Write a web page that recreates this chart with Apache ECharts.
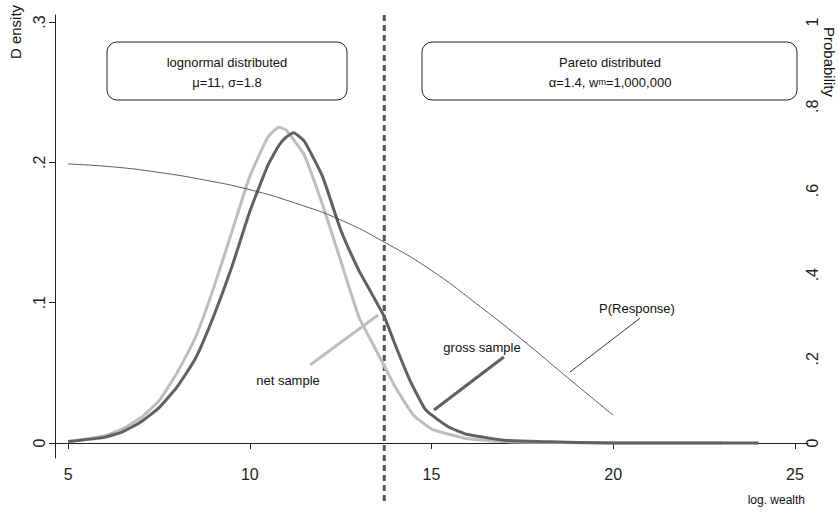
<!DOCTYPE html>
<html><head><meta charset="utf-8">
<script src="https://cdn.jsdelivr.net/npm/echarts@6/dist/echarts.min.js"></script>
<style>html,body{margin:0;background:#fff}#c{width:839px;height:513px}</style>
</head><body><div id="c"></div>
<script>
const grossX = [5, 6, 6.5, 7, 7.5, 8, 8.5, 9, 9.5, 10, 10.5, 10.8, 11, 11.2, 11.5, 12, 12.5, 13, 13.3, 13.7, 14, 14.4, 14.8, 15, 15.5, 16, 17, 18, 20, 24]
const grossY = [0.001, 0.004, 0.008, 0.015, 0.025, 0.04, 0.06, 0.09, 0.125, 0.165, 0.198, 0.212, 0.218, 0.221, 0.215, 0.19, 0.152, 0.123, 0.109, 0.09, 0.07, 0.045, 0.025, 0.02, 0.011, 0.006, 0.002, 0.001, 0, 0]
const netX = [5, 6, 6.5, 7, 7.5, 8, 8.5, 9, 9.5, 10, 10.5, 10.8, 11, 11.5, 12, 12.5, 13, 13.5, 14, 14.5, 15, 15.5, 16, 17, 18, 20, 23]
const netY = [0.001, 0.005, 0.01, 0.018, 0.03, 0.05, 0.075, 0.11, 0.15, 0.19, 0.218, 0.225, 0.223, 0.205, 0.17, 0.13, 0.09, 0.065, 0.04, 0.02, 0.01, 0.006, 0.003, 0.001, 0.0005, 0, 0]
const respX = [5, 6.25, 7.5, 8.75, 10, 11.25, 12.5, 13.75, 15, 16.25, 17.5, 18.75, 20]
const respY = [0.663, 0.656, 0.643, 0.625, 0.602, 0.57, 0.53, 0.475, 0.41, 0.33, 0.245, 0.155, 0.066]
const cutX = 13.7
const pointers = [
  { text: 'net sample', color: '#bdbdbd', from: [11.66, 0.0556], to: [13.53, 0.0912], at: [288, 380] },
  { text: 'gross sample', color: '#606060', from: [15.07, 0.0235], to: [16.99, 0.0613], at: [482, 347] },
  { text: 'P(Response)', color: '#333', from: [18.81, 0.0506], to: [20.74, 0.089], at: [637, 308] }
]
const xTicks = [5, 10, 15, 20, 25]
const yTicks = [0, 0.1, 0.2, 0.3]
const pTicks = [0, 0.2, 0.4, 0.6, 0.8, 1]
const fmt = v => v === 0 ? '0' : String(v).replace(/^0/, '')

const chart = echarts.init(document.getElementById('c'), null, { renderer: 'svg' })
const zip = (a, b) => a.map((x, i) => [x, b[i]])
const axisText = { fontFamily: 'Liberation Sans', fontSize: 16, color: '#222' }
const option = {
  animation: false,
  grid: { left: 55, right: 31, top: 15, bottom: 55 },
  xAxis: {
    type: 'value', min: 4.64, max: 25.36,
    axisLine: { lineStyle: { color: '#222' } },
    axisTick: { customValues: xTicks, length: 6, lineStyle: { color: '#222' } },
    axisLabel: { customValues: xTicks, ...axisText },
    splitLine: { show: false }
  },
  yAxis: [{
    type: 'value', min: -0.0107, max: 0.305,
    axisLine: { show: true, lineStyle: { color: '#222' } },
    axisTick: { show: true, customValues: yTicks, length: 6, lineStyle: { color: '#222' } },
    axisLabel: { customValues: yTicks, rotate: 90, formatter: fmt, ...axisText },
    splitLine: { show: false }
  }, {
    type: 'value', min: -0.0356, max: 1.017, position: 'right',
    axisLine: { show: false },
    axisTick: { show: false },
    axisLabel: { customValues: pTicks, rotate: 90, margin: -4, formatter: fmt, ...axisText },
    splitLine: { show: false }
  }],
  series: [
    { type: 'line', data: zip(netX, netY), showSymbol: false, smooth: 0.15, lineStyle: { color: '#bdbdbd', width: 3 } },
    { type: 'line', data: zip(grossX, grossY), showSymbol: false, smooth: 0.15, lineStyle: { color: '#606060', width: 3 } },
    { type: 'line', yAxisIndex: 1, data: zip(respX, respY), showSymbol: false, smooth: true, lineStyle: { color: '#333', width: 0.8 } },
    ...pointers.map(p => ({ type: 'line', data: [p.from, p.to], showSymbol: false, lineStyle: { color: p.color, width: p.color === '#333' ? 1 : 3 } }))
  ]
}
chart.setOption(option)

const cx = chart.convertToPixel({ xAxisIndex: 0 }, cutX)
const txt = { fontFamily: 'Liberation Sans', fontSize: 13, fill: '#111' }
chart.setOption({
  graphic: [
    { type: 'line', shape: { x1: cx, y1: 15, x2: cx, y2: 505 }, style: { stroke: '#555', lineWidth: 3, lineDash: [6, 4] } },
    { type: 'rect', shape: { x: 107, y: 42, width: 240, height: 58, r: 10 }, style: { fill: '#fff', stroke: '#222' } },
    { type: 'text', x: 227, y: 62, style: { text: 'lognormal distributed', align: 'center', verticalAlign: 'middle', ...txt } },
    { type: 'text', x: 227, y: 82, style: { text: 'μ=11, σ=1.8', align: 'center', verticalAlign: 'middle', ...txt } },
    { type: 'rect', shape: { x: 422, y: 42, width: 375, height: 58, r: 10 }, style: { fill: '#fff', stroke: '#222' } },
    { type: 'text', x: 610, y: 62, style: { text: 'Pareto distributed', align: 'center', verticalAlign: 'middle', ...txt } },
    { type: 'text', x: 610, y: 82, style: { rich: { s: { fontSize: 9, fontFamily: 'Liberation Sans' } }, text: 'α=1.4, w{s|m}=1,000,000', align: 'center', verticalAlign: 'middle', ...txt } },
    ...pointers.map(p => ({ type: 'text', x: p.at[0], y: p.at[1], style: { text: p.text, align: 'center', verticalAlign: 'middle', ...txt } })),
    { type: 'text', x: 15, y: 32, rotation: Math.PI / 2, style: { text: 'D ensity', align: 'center', verticalAlign: 'middle', ...txt, fontSize: 15 } },
    { type: 'text', x: 829, y: 62, rotation: -Math.PI / 2, style: { text: 'Probability', align: 'center', verticalAlign: 'middle', ...txt, fontSize: 15 } },
    { type: 'text', x: 805, y: 500, style: { text: 'log. wealth', align: 'right', verticalAlign: 'middle', ...txt, fontSize: 12 } }
  ]
})
window.addEventListener('resize', () => chart.resize())
</script></body></html>
